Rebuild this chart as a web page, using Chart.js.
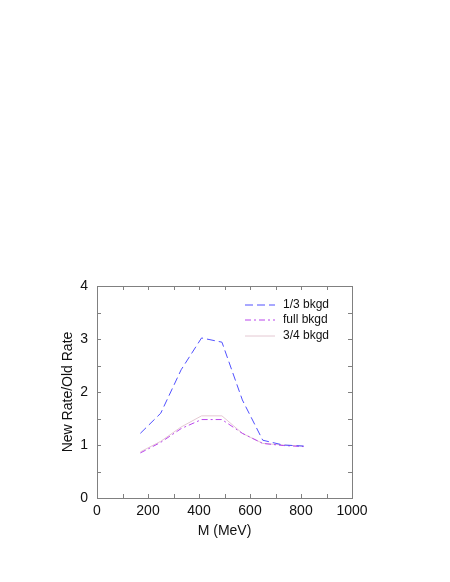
<!DOCTYPE html>
<html>
<head>
<meta charset="utf-8">
<script src="https://cdn.jsdelivr.net/npm/chart.js@4/dist/chart.umd.min.js"></script>
<style>
  html, body { margin: 0; padding: 0; background: #fff; }
  canvas { display: block; }
</style>
</head>
<body>
<canvas id="rateChart" width="450" height="582"></canvas>
<script>
// Mass points (MeV)
const masses = [170, 250, 330, 410, 490, 570, 650, 730, 810];

// New rate / old rate for each background assumption
const thirdBkgd = [1.22, 1.60, 2.42, 3.02, 2.94, 1.85, 1.09, 1.00, 0.98];
const fullBkgd = [0.85, 1.05, 1.31, 1.48, 1.48, 1.22, 1.03, 0.99, 0.97];
const threeQuarterBkgd = [0.87, 1.07, 1.34, 1.55, 1.55, 1.22, 1.03, 1.00, 0.98];

const seriesLabels = ['1/3 bkgd', 'full bkgd', '3/4 bkgd'];
const seriesColors = ['rgb(80, 80, 255)', 'rgb(186, 70, 236)', 'rgb(228, 200, 210)'];
const seriesDash = [[8, 4], [6, 3, 2, 3], []];

const fontFamily = '"Liberation Sans", Arial, Helvetica, sans-serif';

const toPoints = vals => masses.map((m, i) => ({ x: m, y: vals[i] }));

// Frame with inward ticks on all four sides, like the original plot
const framePlugin = {
    id: 'frame',
    afterDraw(chart) {
        const { ctx, chartArea: a, scales } = chart;
        ctx.save();
        ctx.strokeStyle = '#808080';
        ctx.lineWidth = 1;
        ctx.strokeRect(Math.round(a.left) + 0.5, Math.round(a.top) + 0.5,
            Math.round(a.right - a.left), Math.round(a.bottom - a.top));
        const len = 4;
        ctx.beginPath();
        for (let v = 100; v < 1000; v += 100) {
            const px = Math.round(scales.x.getPixelForValue(v)) + 0.5;
            ctx.moveTo(px, a.bottom); ctx.lineTo(px, a.bottom - len);
            ctx.moveTo(px, a.top); ctx.lineTo(px, a.top + len);
        }
        for (let v = 0.5; v < 4; v += 0.5) {
            const py = Math.round(scales.y.getPixelForValue(v)) + 0.5;
            ctx.moveTo(a.left, py); ctx.lineTo(a.left + len, py);
            ctx.moveTo(a.right, py); ctx.lineTo(a.right - len, py);
        }
        ctx.stroke();
        ctx.restore();
    }
};

// Legend drawn inside the plot, top right
const insideLegend = {
    id: 'insideLegend',
    afterDatasetsDraw(chart) {
        const { ctx, chartArea: a } = chart;
        ctx.save();
        ctx.font = '12px ' + fontFamily;
        ctx.textBaseline = 'middle';
        const rows = [19, 34, 49.5];
        seriesLabels.forEach((label, i) => {
            const y = Math.round(a.top + rows[i]);
            ctx.strokeStyle = seriesColors[i];
            ctx.lineWidth = 1;
            ctx.setLineDash(seriesDash[i]);
            ctx.beginPath();
            ctx.moveTo(a.right - 107, y);
            ctx.lineTo(a.right - 77, y);
            ctx.stroke();
            ctx.setLineDash([]);
            ctx.fillStyle = '#111';
            ctx.fillText(label, a.right - 69, y);
        });
        ctx.restore();
    }
};

new Chart(document.getElementById('rateChart'), {
    type: 'line',
    data: {
        datasets: [thirdBkgd, fullBkgd, threeQuarterBkgd].map((vals, i) => ({
            label: seriesLabels[i],
            data: toPoints(vals),
            borderColor: seriesColors[i],
            borderWidth: 1,
            borderDash: seriesDash[i]
        }))
    },
    options: {
        responsive: false,
        animation: false,
        elements: {
            point: { radius: 0 },
            line: { tension: 0 }
        },
        layout: {
            padding: { left: 60, right: 98, top: 286, bottom: 42 }
        },
        plugins: {
            legend: { display: false },
            tooltip: { enabled: false }
        },
        scales: {
            x: {
                type: 'linear',
                min: 0,
                max: 1000,
                grid: { display: false, drawTicks: false },
                border: { display: false },
                ticks: {
                    stepSize: 200,
                    padding: 5,
                    color: '#111',
                    font: { family: fontFamily, size: 14 },
                    callback: v => String(v)
                },
                title: {
                    display: true,
                    text: 'M (MeV)',
                    color: '#111',
                    padding: 0,
                    font: { family: fontFamily, size: 14 }
                },
                afterFit(scale) { scale.height = 42; }
            },
            y: {
                min: 0,
                max: 4,
                grid: { display: false, drawTicks: false },
                border: { display: false },
                ticks: {
                    stepSize: 1,
                    padding: 9,
                    color: '#111',
                    font: { family: fontFamily, size: 14 },
                    callback: v => String(v)
                },
                title: {
                    display: true,
                    text: 'New Rate/Old Rate',
                    color: '#111',
                    padding: 0,
                    font: { family: fontFamily, size: 14 }
                },
                afterFit(scale) { scale.width = 37; }
            }
        }
    },
    plugins: [framePlugin, insideLegend]
});
</script>
</body>
</html>
